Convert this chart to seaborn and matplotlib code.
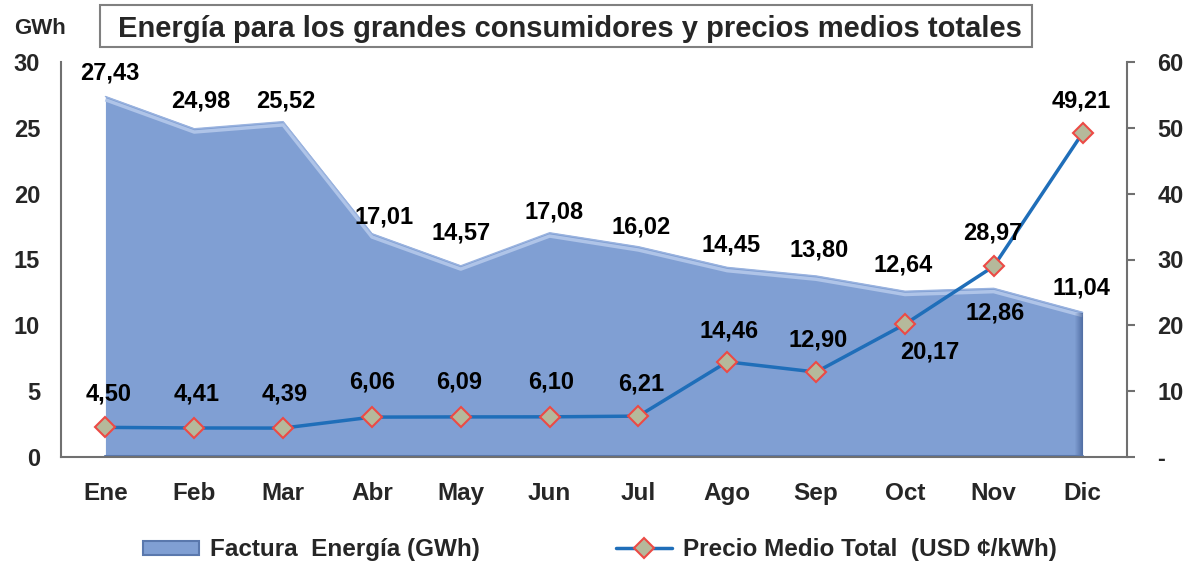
import matplotlib
matplotlib.use("Agg")
import matplotlib.pyplot as plt
import seaborn as sns
import numpy as np
from matplotlib.patches import Patch, Rectangle
from matplotlib.lines import Line2D

# ---- data ----
months = ["Ene", "Feb", "Mar", "Abr", "May", "Jun", "Jul", "Ago", "Sep", "Oct", "Nov", "Dic"]
energia_gwh = [27.43, 24.98, 25.52, 17.01, 14.57, 17.08, 16.02, 14.45, 13.80, 12.64, 12.86, 11.04]
precio_cent = [4.50, 4.41, 4.39, 6.06, 6.09, 6.10, 6.21, 14.46, 12.90, 20.17, 28.97, 49.21]
left_ticks = [0, 5, 10, 15, 20, 25, 30]
right_ticks = [0, 10, 20, 30, 40, 50, 60]
right_ticklabels = ["-", "10", "20", "30", "40", "50", "60"]
title = "Energía para los grandes consumidores y precios medios totales"
legend_area = "Factura  Energía (GWh)"
legend_line = "Precio Medio Total  (USD ¢/kWh)"

# label offsets (pixels, up positive)
area_off = [(4, 23), (7, 27), (3, 20), (12, 16), (0, 32), (4, 20), (3, 19), (4, 22), (3, 25), (-2, 26), (1, -25), (-1, 24)]
price_off = [(3, 33), (2, 34), (2, 34), (0, 35), (-2, 35), (2, 35), (3, 32), (2, 31), (2, 32), (25, -28), (-1, 33), (-1, 32)]

sns.set_theme(style="white")
plt.rcParams['font.family'] = ['Liberation Sans', 'DejaVu Sans']
plt.rcParams['font.weight'] = 'bold'

W, H = 1193, 565
fig = plt.figure(figsize=(11.93, 5.65), dpi=100)
ax = fig.add_axes([61 / W, 1 - 457 / H, (1127 - 61) / W, (457 - 62) / H])
ax2 = ax.twinx()

x = np.arange(len(months))
y = np.array(energia_gwh)

area_col = "#809FD3"
# main area
ax.fill_between(x, 0, y, color=area_col, lw=0, zorder=1)
# highlight along top
ax.plot(x, y - 0.3, color="#AFC4E8", lw=2.5, solid_capstyle="butt", zorder=2)
ax.plot(x, y - 0.05, color="#9AB3DF", lw=1.0, zorder=2)
# dark right edge gradient
for i, a in enumerate(np.linspace(0.05, 0.55, 8)):
    x0 = x[-1] - 0.09 + i * 0.09 / 8
    ax.fill_between([x0, x0 + 0.09 / 8], 0, y[-1] - 0.1, color="#2E4A80", alpha=a, lw=0, zorder=2)
# bottom dark line
ax.plot([x[0], x[-1]], [0.05, 0.05], color="#5A78AD", lw=1.5, zorder=2)

ax.set_xlim(-0.5, 11.5)
ax.set_ylim(0, 30)
ax.set_yticks(left_ticks)
ax.set_xticks(x)
ax.set_xticklabels(months, fontsize=17.5, fontweight="bold")
ax.tick_params(axis="y", length=0, pad=15, labelsize=17)
ax.tick_params(axis="x", length=0, pad=18)
for lab in ax.get_yticklabels():
    lab.set_fontweight("bold")

for s in ["top", "right"]:
    ax.spines[s].set_visible(False)
for s in ["left", "bottom"]:
    ax.spines[s].set_color("#707070")
    ax.spines[s].set_linewidth(1.5)

# price line
sns.lineplot(x=x, y=precio_cent, ax=ax2, color="#1F6EB9", lw=2.5, marker="D",
             markersize=10.5, markerfacecolor="#B5B99B", markeredgecolor="#EC4A45",
             markeredgewidth=1.5, zorder=5)
ax2.set_ylim(0, 60)
ax2.set_yticks(right_ticks)
ax2.set_yticklabels(right_ticklabels, fontsize=17, fontweight="bold")
ax2.tick_params(axis="y", length=6, width=1.5, color="#707070", pad=16, right=True)
for s in ["top", "left", "bottom"]:
    ax2.spines[s].set_visible(False)
ax2.spines["right"].set_color("#707070")
ax2.spines["right"].set_linewidth(1.5)

def fmt(v):
    return f"{v:.2f}".replace(".", ",")

for i, v in enumerate(energia_gwh):
    ax2.annotate(fmt(v), (x[i], v * 2), xytext=area_off[i], textcoords="offset pixels",
                 ha="center", va="center", fontsize=17, fontweight="bold", color="black", zorder=6)
for i, v in enumerate(precio_cent):
    ax2.annotate(fmt(v), (x[i], v), xytext=price_off[i], textcoords="offset pixels",
                 ha="center", va="center", fontsize=17, fontweight="bold", color="black", zorder=6)

# title box
fig.patches.append(Rectangle((100 / W, 1 - 47 / H), (1032 - 100) / W, 42 / H,
                             transform=fig.transFigure, facecolor="white",
                             edgecolor="#808080", lw=1.5, zorder=0))
fig.text(570 / W, 1 - 37 / H, title, ha="center", va="baseline", fontsize=21, fontweight="bold")
fig.text(40 / W, 1 - 34 / H, "GWh", ha="center", va="baseline", fontsize=16, fontweight="bold")

handles = [Patch(facecolor=area_col, edgecolor="#5A78AD", lw=1.5),
           Line2D([0], [0], color="#1F6EB9", lw=2.5, marker="D", markersize=10.5,
                  markerfacecolor="#B5B99B", markeredgecolor="#EC4A45", markeredgewidth=1.5)]
fig.legend(handles, [legend_area, legend_line], loc="center", bbox_to_anchor=(0.503, 0.027),
           ncol=2, frameon=False, handlelength=2.3, handleheight=0.5,
           handletextpad=0.45, columnspacing=5.6, prop={"weight": "bold", "size": 17.5})

fig.savefig("out.png", dpi=100)
